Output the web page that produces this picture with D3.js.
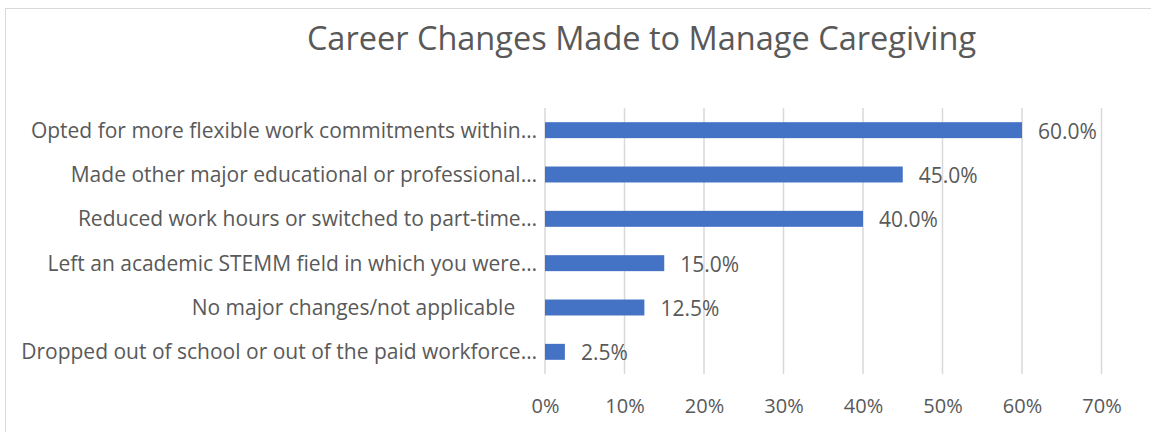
<!DOCTYPE html>
<html><head><meta charset="utf-8">
<script src="https://cdn.jsdelivr.net/npm/d3@7"></script>
<style>body{margin:0;background:#fff}svg{display:block}text{font-family:"Open Sans","Noto Sans",sans-serif;fill:#595959}</style>
</head><body><svg id="c" width="1151" height="432"></svg>
<script>
const categories = [
  "Opted for more flexible work commitments within\u2026",
  "Made other major educational or professional\u2026",
  "Reduced work hours or switched to part-time\u2026",
  "Left an academic STEMM field in which you were\u2026",
  "No major changes/not applicable    ",
  "Dropped out of school or out of the paid workforce\u2026"
];
const values = [60.0, 45.0, 40.0, 15.0, 12.5, 2.5];
const tickValues = [0, 10, 20, 30, 40, 50, 60, 70];
const title = "Career Changes Made to Manage Caregiving";

const svg = d3.select("#c");
svg.append("rect").attr("x",5.5).attr("y",8.5).attr("width",1150).attr("height",430)
  .attr("fill","#fff").attr("stroke","#d9d9d9").attr("stroke-width",1);

const x = d3.scaleLinear().domain([0,70]).range([545,1101.5]);
const y = d3.scaleBand().domain(categories).range([108,374]).paddingInner(0.64).paddingOuter(0.32);

svg.append("text").attr("x",641.5).attr("y",49.5).attr("text-anchor","middle")
  .style("font-size","32.5px").text(title);

// gridlines
svg.append("g").selectAll("line").data(tickValues).join("line")
  .attr("x1",d=>x(d)).attr("x2",d=>x(d)).attr("y1",108).attr("y2",374)
  .attr("stroke","#d9d9d9").attr("stroke-width",1.5);

// x axis labels
const xa = svg.append("g").attr("transform","translate(0,374)")
  .call(d3.axisBottom(x).tickValues(tickValues).tickFormat(d=>d+"%").tickSize(0).tickPadding(0));
xa.select(".domain").remove();
xa.selectAll("text").attr("dy",null).attr("y",39).style("font-size","20px")
  .attr("fill","#595959").style("font-family",null);

// bars
svg.append("g").selectAll("rect").data(values).join("rect")
  .attr("x",x(0)).attr("y",(d,i)=>y(categories[i]))
  .attr("width",d=>x(d)-x(0)).attr("height",y.bandwidth()).attr("fill","#4472C4");

// data labels
svg.append("g").selectAll("text").data(values).join("text")
  .attr("x",d=>x(d)+16).attr("y",(d,i)=>y(categories[i])+y.bandwidth()/2+8.5)
  .style("font-size","21px").text(d=>d.toFixed(1)+"%");

// category labels
const ya = svg.append("g").attr("transform","translate(545,0)")
  .call(d3.axisLeft(y).tickSize(0).tickPadding(8));
ya.select(".domain").remove();
ya.selectAll("text").attr("dy",null).attr("y",7.5).style("font-size","21px").attr("fill","#595959")
  .style("font-family",null).style("white-space","pre").attr("xml:space","preserve");
</script></body></html>
